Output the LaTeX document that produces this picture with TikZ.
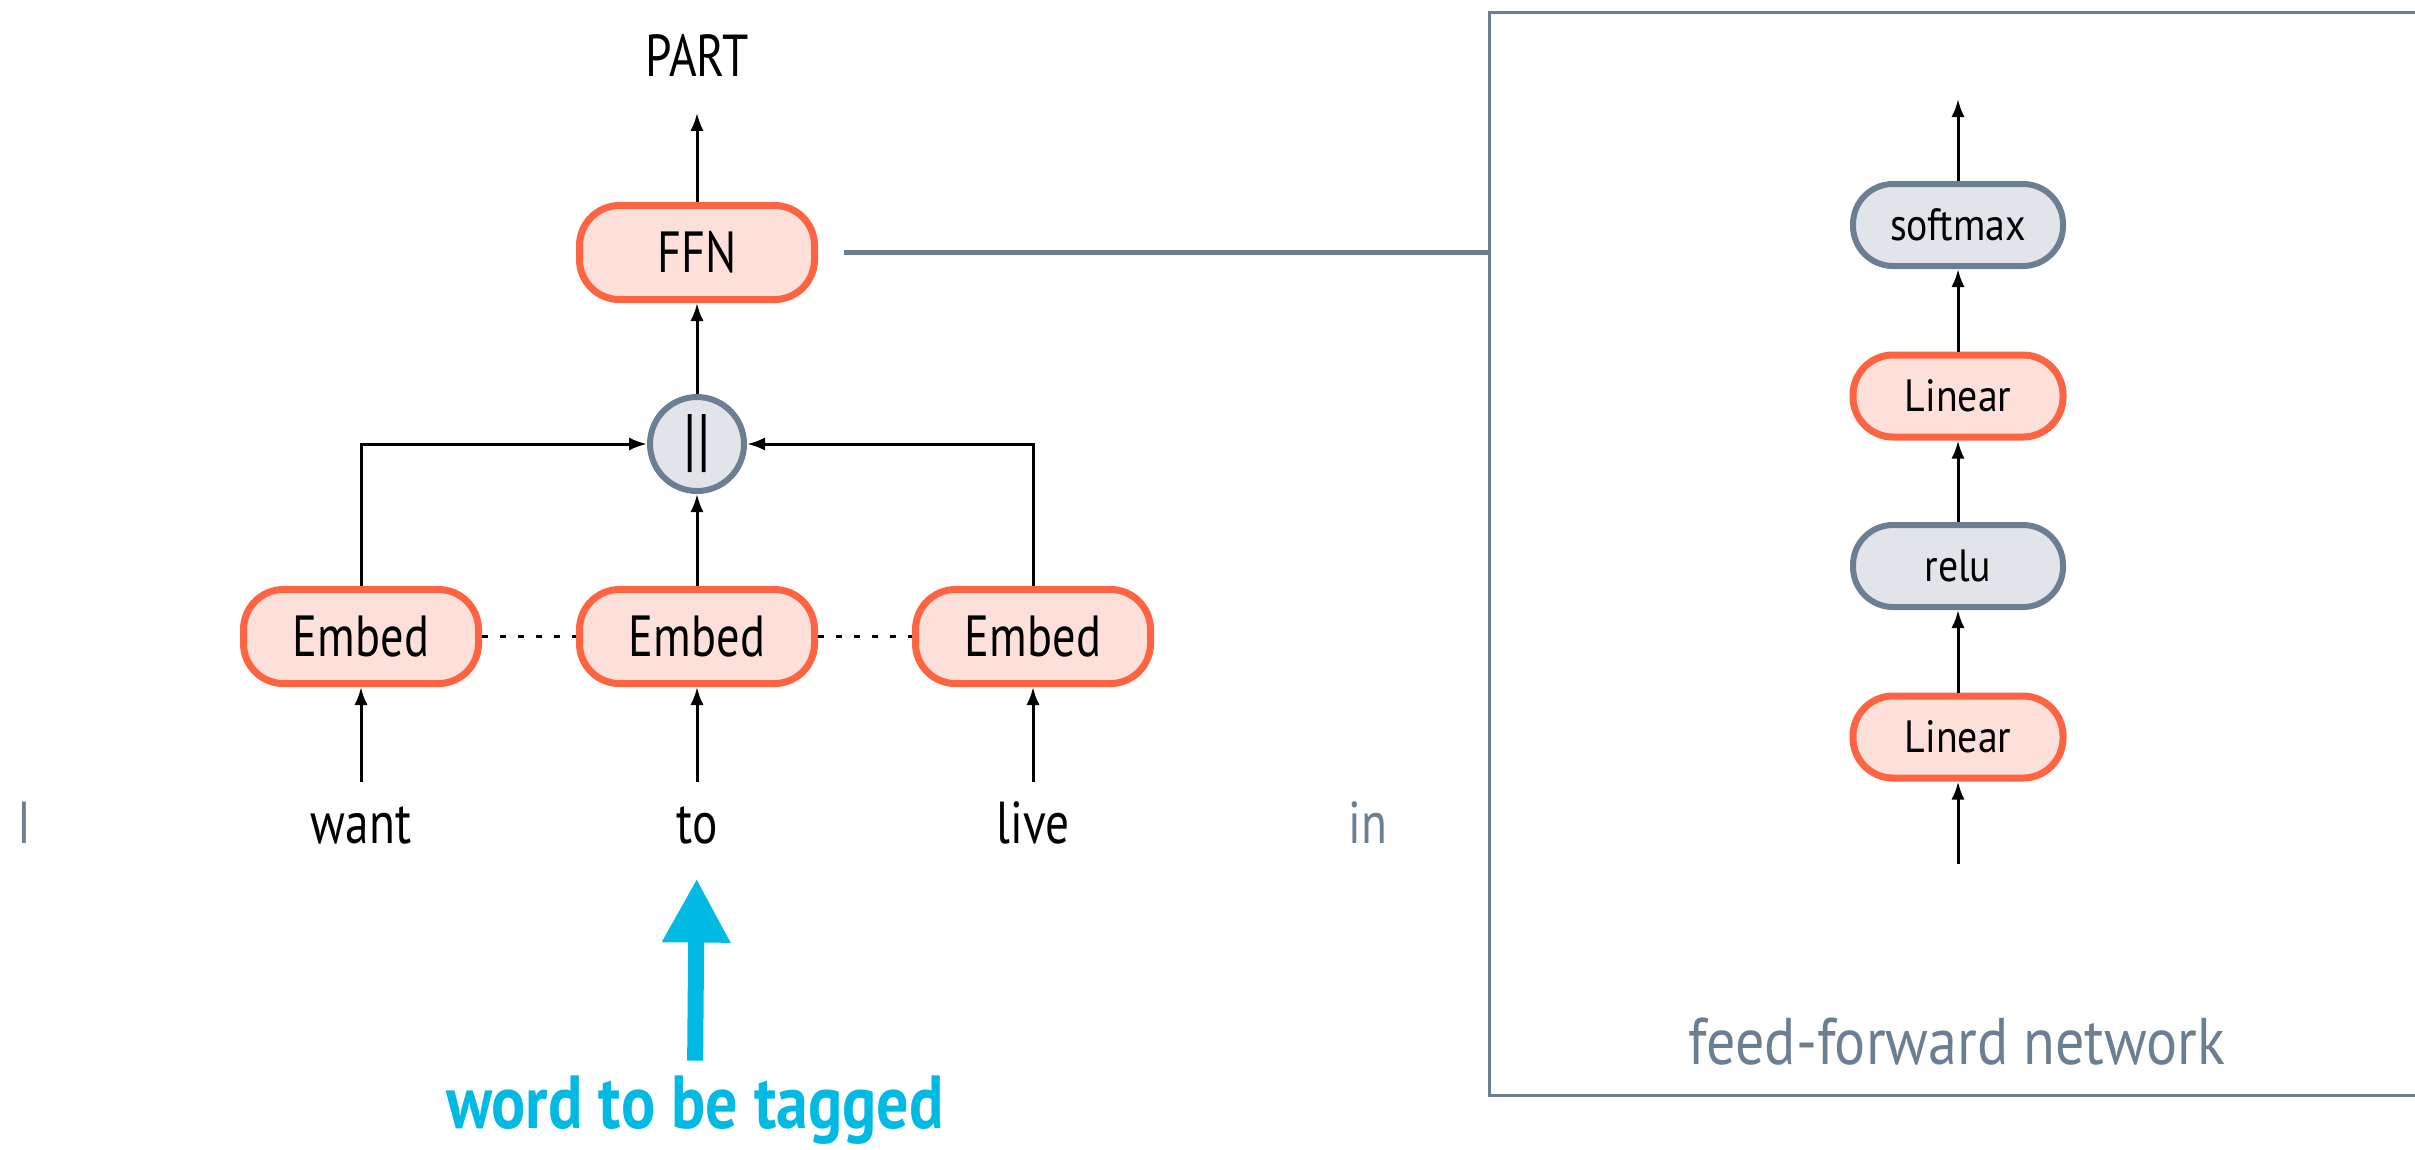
\documentclass[tikz,border=0pt]{standalone}
\usepackage{fontspec}
\setmainfont{PT Sans}
\newfontfamily\condfont{PT Sans}[FakeStretch=0.8]
\newfontfamily\tagfont{PT Sans}[FakeStretch=0.85]
\newfontfamily\rfont{PT Sans}[FakeStretch=0.88]
\usetikzlibrary{arrows.meta}
\definecolor{ored}{HTML}{FF6442}
\definecolor{ofill}{HTML}{FDE0D9}
\definecolor{slate}{HTML}{6B7E92}
\definecolor{sfill}{HTML}{E1E4E9}
\definecolor{tagblue}{HTML}{00BAE3}
\begin{document}
\begin{tikzpicture}[x=0.25pt,y=-0.25pt,
  lbox/.style={draw=ored, fill=ofill, line width=1.75pt, rounded corners=10pt,
    minimum width=58.75pt, minimum height=23.5pt, inner sep=0pt,
    font=\condfont\fontsize{14.5}{16}\selectfont},
  ffbox/.style={line width=1.5pt, rounded corners=10pt, minimum width=52.5pt,
    minimum height=20.5pt, inner sep=0pt, font=\rfont\fontsize{11.3}{13}\selectfont},
  lin/.style={ffbox, draw=ored, fill=ofill, line width=1.75pt},
  act/.style={ffbox, draw=slate, fill=sfill},
  arr/.style={-{Latex[length=4.5pt,width=3.3pt]}, line width=0.75pt, black},
  word/.style={font=\condfont\fontsize{14.8}{16}\selectfont, anchor=base, inner sep=0pt},
  dotline/.style={line width=0.75pt, dash pattern=on 1.5pt off 3pt},
]
\useasboundingbox (0,0) rectangle (2415,1149);

% left part
\node[word] (part) at (697,76) {PART};
\node[lbox] (ffn) at (697,252.5) {FFN};
\node[circle, draw=slate, fill=sfill, line width=1.5pt, minimum size=23.5pt,
  inner sep=0pt, font=\condfont\fontsize{17.5}{18}\selectfont] (cat) at (697,444) {||};
\node[lbox] (e1) at (361,636.5) {Embed};
\node[lbox] (e2) at (697,636.5) {Embed};
\node[lbox] (e3) at (1033,636.5) {Embed};

\node[word, text=slate] (w1) at (24,843) {I};
\node[word] (w2) at (361,843) {want};
\node[word] (w3) at (697,843) {to};
\node[word] (w4) at (1033,843) {live};
\node[word, text=slate] (w5) at (1368,843) {in};

\coordinate (a2) at (361,782);
\coordinate (a3) at (697,782);
\coordinate (a4) at (1033,782);

\draw[arr] (a2) -- (e1);
\draw[arr] (a3) -- (e2);
\draw[arr] (a4) -- (e3);
\draw[dotline] (e1) -- (e2);
\draw[dotline] (e2) -- (e3);
\draw[arr] (e1.north) |- (cat.west);
\draw[arr] (e3.north) |- (cat.east);
\draw[arr] (e2) -- (cat);
\draw[arr] (cat) -- (ffn);
\draw[arr, shorten >=9pt] (ffn) -- (part);

\node[font=\tagfont\bfseries\fontsize{18.8}{22}\selectfont, text=tagblue, anchor=base,
  inner sep=0pt] (tag) at (695,1128) {word to be tagged};
\draw[tagblue, line width=4pt, -{Triangle[length=16pt,width=16pt]},
  shorten <=3.5pt, shorten >=8.5pt] (tag.north) -- (w3.south);

% right panel
\node[draw=slate, line width=0.75pt, minimum width=234pt, minimum height=270.75pt,
  inner sep=0pt] (panel) at (1957,553.5) {};
\draw[slate, line width=1.25pt, shorten <=6.6pt] (ffn.east) -- (ffn.east -| panel.west);

\node[act] (sm) at (1958,225) {softmax};
\node[lin] (l2) at (1958,396) {Linear};
\node[act] (relu) at (1958,566) {relu};
\node[lin] (l1) at (1958,737) {Linear};
\coordinate (top) at (1958,99);
\coordinate (bot) at (1958,864);
\draw[arr] (bot) -- (l1);
\draw[arr] (l1) -- (relu);
\draw[arr] (relu) -- (l2);
\draw[arr] (l2) -- (sm);
\draw[arr] (sm) -- (top);

\node[font=\rfont\fontsize{16.5}{19}\selectfont, text=slate, anchor=base, inner sep=0pt]
  (fflabel) at (1957,1064) {feed-forward network};
\end{tikzpicture}
\end{document}
